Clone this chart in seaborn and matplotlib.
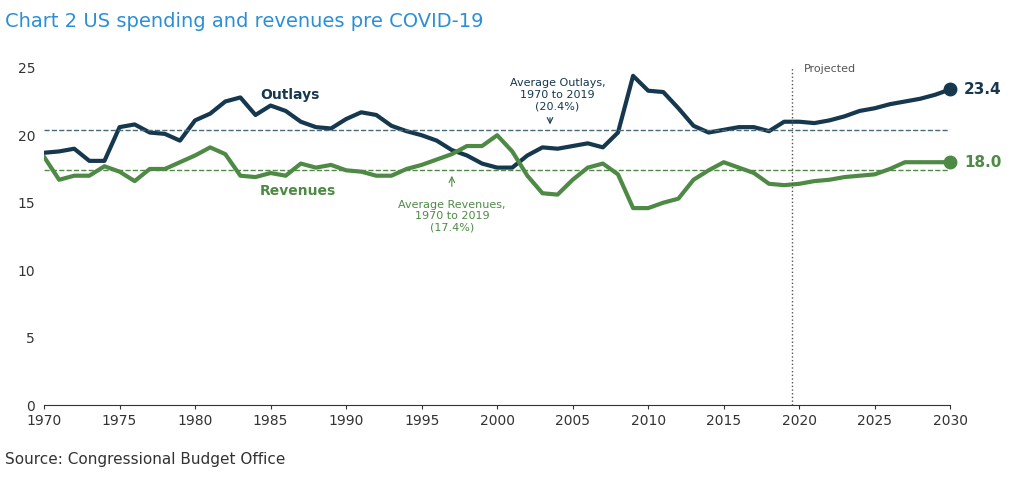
import matplotlib
matplotlib.use("Agg")
import matplotlib.pyplot as plt
import seaborn as sns
import pandas as pd

years = list(range(1970, 2031))
outlays = [18.7,18.8,19.0,18.1,18.1,20.6,20.8,20.2,20.1,19.6,21.1,21.6,22.5,22.8,21.5,22.2,21.8,21.0,20.6,20.5,
           21.2,21.7,21.5,20.7,20.3,20.0,19.6,18.9,18.5,17.9,17.6,17.6,18.5,19.1,19.0,19.2,19.4,19.1,20.2,24.4,
           23.3,23.2,22.0,20.7,20.2,20.4,20.6,20.6,20.3,21.0,21.0,20.9,21.1,21.4,21.8,22.0,22.3,22.5,22.7,23.0,23.4]
revenues = [18.4,16.7,17.0,17.0,17.7,17.3,16.6,17.5,17.5,18.0,18.5,19.1,18.6,17.0,16.9,17.2,17.0,17.9,17.6,17.8,
            17.4,17.3,17.0,17.0,17.5,17.8,18.2,18.6,19.2,19.2,20.0,18.8,17.0,15.7,15.6,16.7,17.6,17.9,17.1,14.6,
            14.6,15.0,15.3,16.7,17.4,18.0,17.6,17.2,16.4,16.3,16.4,16.6,16.7,16.9,17.0,17.1,17.5,18.0,18.0,18.0,18.0]
avg_outlays = 20.4
avg_revenues = 17.4
xticks = list(range(1970, 2031, 5))
yticks = [0, 5, 10, 15, 20, 25]

navy = "#16384f"
green = "#4e8a45"
df = pd.DataFrame({"year": years, "Outlays": outlays, "Revenues": revenues})

sns.set_style("white")
fig = plt.figure(figsize=(10.24, 4.84), dpi=100)
ax = fig.add_axes([0.043, 0.163, 0.885, 0.697])
sns.lineplot(data=df, x="year", y="Outlays", color=navy, lw=3, ax=ax)
sns.lineplot(data=df, x="year", y="Revenues", color=green, lw=3, ax=ax)
ax.axhline(avg_outlays, color="#4a6a7a", ls="--", lw=1)
ax.axhline(avg_revenues, color=green, ls="--", lw=1)
ax.axvline(2019.5, color="#555555", ls=":", lw=1)
ax.plot([years[-1]], [outlays[-1]], "o", color=navy, ms=9, clip_on=False, zorder=5)
ax.plot([years[-1]], [revenues[-1]], "o", color=green, ms=9, clip_on=False, zorder=5)
ax.text(2030.9, outlays[-1], f"{outlays[-1]:.1f}", color=navy, fontsize=11, fontweight="bold", va="center")
ax.text(2030.9, revenues[-1], f"{revenues[-1]:.1f}", color=green, fontsize=11, fontweight="bold", va="center")
ax.text(1984.3, 22.7, "Outlays", color=navy, fontsize=10, fontweight="bold")
ax.text(1984.3, 15.6, "Revenues", color=green, fontsize=10, fontweight="bold")
ax.text(2004, 23.0, "Average Outlays,\n1970 to 2019\n(20.4%)", color=navy, fontsize=8, ha="center", va="center")
ax.annotate("", xy=(2003.5, 20.6), xytext=(2003.5, 21.5), arrowprops=dict(arrowstyle="->", color=navy, lw=0.8))
ax.text(1997, 14.0, "Average Revenues,\n1970 to 2019\n(17.4%)", color=green, fontsize=8, ha="center", va="center")
ax.annotate("", xy=(1997, 17.2), xytext=(1997, 16.0), arrowprops=dict(arrowstyle="->", color=green, lw=0.8))
ax.text(2020.3, 24.7, "Projected", color="#555555", fontsize=8)
ax.set_xlim(1970, 2030)
ax.set_ylim(0, 25)
ax.set_xticks(xticks)
ax.set_yticks(yticks)
ax.tick_params(labelsize=10, colors="#333333", length=3, bottom=True)
ax.set_xlabel("")
ax.set_ylabel("")
for s in ["top", "right"]:
    ax.spines[s].set_visible(False)
ax.spines["left"].set_visible(False)
ax.spines["bottom"].set_color("#333333")
fig.text(0.005, 0.955, "Chart 2 US spending and revenues pre COVID-19", color="#2b8fd8", fontsize=14, va="center")
fig.text(0.005, 0.05, "Source: Congressional Budget Office", color="#333333", fontsize=11, va="center")
fig.savefig("out.png", dpi=100)
